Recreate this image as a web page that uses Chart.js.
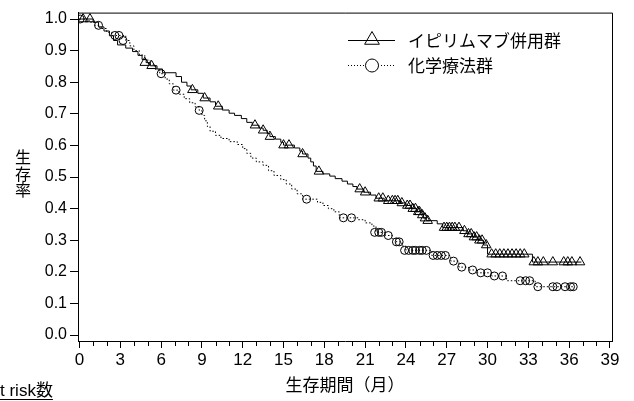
<!DOCTYPE html>
<html lang="ja">
<head>
<meta charset="UTF-8">
<title>生存率</title>
<script src="https://cdn.jsdelivr.net/npm/chart.js"></script>
<style>
  html, body { margin: 0; padding: 0; background: #fff; }
</style>
</head>
<body>
<canvas id="km" width="634" height="401"></canvas>
<script>
// イピリムマブ併用群: step points (months, survival)
const ipiTimes = [0, 1.0, 1.4, 1.8, 2.2, 2.5, 2.8, 3.4, 3.9, 4.3, 4.6, 4.9, 5.2, 5.7, 6.1, 7.1, 7.5, 7.9, 8.2, 8.7,
  9.1, 9.6, 10.0, 10.5, 11.0, 11.4, 11.9, 12.3, 12.7, 13.2, 13.5, 13.8, 14.0, 14.4, 14.8, 15.0, 15.8, 16.2, 16.4, 16.8,
  17.0, 17.2, 17.4, 17.9, 18.4, 18.8, 19.3, 19.7, 20.1, 20.4, 20.9, 21.4, 21.8, 22.4, 23.6, 24.0, 24.4, 24.8, 25.1, 25.3,
  25.5, 26.3, 26.7, 28.2, 28.5, 28.9, 29.3, 29.7, 30.0, 33.3, 36.9];
const ipiSurv = [1.0, 0.99, 0.975, 0.962, 0.947, 0.932, 0.918, 0.908, 0.897, 0.885, 0.872, 0.862, 0.852, 0.842, 0.83, 0.818, 0.80, 0.788, 0.776, 0.765,
  0.75, 0.738, 0.724, 0.712, 0.702, 0.695, 0.685, 0.673, 0.664, 0.655, 0.648, 0.638, 0.628, 0.62, 0.61, 0.601, 0.592, 0.582, 0.573, 0.56,
  0.548, 0.535, 0.518, 0.51, 0.503, 0.495, 0.487, 0.478, 0.47, 0.462, 0.452, 0.443, 0.433, 0.425, 0.418, 0.41, 0.40, 0.39, 0.38, 0.37,
  0.362, 0.352, 0.34, 0.33, 0.32, 0.31, 0.30, 0.285, 0.256, 0.231, 0.231];
const ipiCensorTimes = [0.26, 0.77, 4.8, 5.3, 8.3, 9.2, 10.2, 12.9, 13.5, 14.0, 15.0, 15.4, 16.4, 17.6, 20.6, 21.0, 22.0, 22.3, 22.7, 23.0,
  23.2, 23.4, 23.7, 24.1, 24.3, 24.5, 24.7, 24.9, 25.0, 25.2, 25.4, 25.6, 26.8, 27.0, 27.2, 27.4, 27.6, 27.9, 28.3, 28.6,
  28.8, 29.0, 29.2, 29.4, 29.6, 29.9, 30.3, 30.6, 30.9, 31.2, 31.5, 31.8, 32.1, 32.4, 32.7, 33.4, 33.7, 34.1, 34.8, 35.6,
  35.9, 36.2, 36.8];
const ipiCensorSurv = [1.0, 1.0, 0.862, 0.852, 0.776, 0.75, 0.724, 0.664, 0.648, 0.628, 0.601, 0.601, 0.573, 0.518, 0.462, 0.452, 0.433, 0.433, 0.425, 0.425,
  0.425, 0.425, 0.418, 0.41, 0.41, 0.40, 0.40, 0.39, 0.39, 0.38, 0.37, 0.362, 0.34, 0.34, 0.34, 0.34, 0.34, 0.34, 0.33, 0.32,
  0.32, 0.31, 0.31, 0.30, 0.30, 0.285, 0.256, 0.256, 0.256, 0.256, 0.256, 0.256, 0.256, 0.256, 0.256, 0.231, 0.231, 0.231, 0.231, 0.231,
  0.231, 0.231, 0.231];

// 化学療法群
const chemoTimes = [0, 0.7, 1.1, 1.5, 2.0, 2.4, 3.4, 3.7, 4.0, 4.4, 4.8, 5.2, 5.6, 5.9, 6.3, 6.6, 6.9, 7.3, 7.7, 8.1,
  8.5, 8.8, 9.0, 9.2, 9.4, 9.6, 10.0, 10.4, 11.0, 11.6, 12.0, 12.3, 12.6, 13.0, 13.5, 13.9, 14.3, 14.8, 15.2, 15.6,
  16.0, 16.4, 17.5, 17.9, 18.3, 18.7, 19.1, 20.5, 21.0, 21.5, 21.8, 22.5, 23.0, 23.3, 23.7, 24.0, 25.9, 27.3, 27.9, 28.6,
  29.2, 30.3, 31.4, 33.5, 36.4];
const chemoSurv = [1.0, 0.99, 0.98, 0.97, 0.958, 0.948, 0.932, 0.915, 0.90, 0.886, 0.87, 0.855, 0.84, 0.827, 0.81, 0.795, 0.775, 0.762, 0.748, 0.735,
  0.722, 0.711, 0.695, 0.678, 0.66, 0.645, 0.632, 0.622, 0.612, 0.603, 0.59, 0.575, 0.56, 0.548, 0.537, 0.52, 0.505, 0.492, 0.478, 0.462,
  0.447, 0.43, 0.42, 0.41, 0.40, 0.39, 0.371, 0.365, 0.355, 0.345, 0.325, 0.315, 0.305, 0.295, 0.282, 0.268, 0.252, 0.234, 0.215, 0.206,
  0.197, 0.187, 0.172, 0.153, 0.153];
const chemoCensorTimes = [0.05, 1.4, 2.6, 2.9, 3.2, 6.0, 7.1, 8.8, 16.7, 19.4, 20.0, 21.7, 22.0, 22.2, 22.7, 23.3, 23.5, 23.9, 24.2, 24.5,
  24.7, 25.0, 25.2, 25.5, 26.0, 26.3, 26.6, 26.9, 27.5, 28.1, 28.9, 29.5, 30.0, 30.5, 31.1, 32.4, 32.8, 33.1, 33.7, 34.8,
  35.1, 35.7, 36.1, 36.3];
const chemoCensorSurv = [1.0, 0.98, 0.948, 0.948, 0.932, 0.827, 0.775, 0.711, 0.43, 0.371, 0.371, 0.325, 0.325, 0.325, 0.315, 0.295, 0.295, 0.268, 0.268, 0.268,
  0.268, 0.268, 0.268, 0.268, 0.252, 0.252, 0.252, 0.252, 0.234, 0.215, 0.206, 0.197, 0.197, 0.187, 0.187, 0.172, 0.172, 0.172, 0.153, 0.153,
  0.153, 0.153, 0.153, 0.153];

const groupNames = ['イピリムマブ併用群', '化学療法群'];
const xTitle = '生存期間（月）';
const yTitle = ['生', '存', '率'];
const riskLabel = 'at risk数';

const FONT = "'Liberation Sans', Arial, 'Noto Sans CJK JP', sans-serif";
const JFONT = "'Noto Sans CJK JP', sans-serif";

const pts = (xs, ys) => xs.map((x, i) => ({ x: x, y: ys[i] }));

function drawTri(ctx, x, y, r) {
  ctx.beginPath();
  ctx.moveTo(x, y - r);
  ctx.lineTo(x + r * 0.866, y + r * 0.5);
  ctx.lineTo(x - r * 0.866, y + r * 0.5);
  ctx.closePath();
  ctx.stroke();
}

// frame, minor ticks, vertical y title, legend, at-risk label
const extras = {
  id: 'extras',
  afterDraw(chart) {
    const { ctx, chartArea: a } = chart;
    const xs = chart.scales.x;
    ctx.save();
    ctx.strokeStyle = '#000';
    ctx.lineWidth = 1;
    ctx.beginPath();
    ctx.moveTo(a.left, a.top + 0.5);
    ctx.lineTo(a.right + 0.5, a.top + 0.5);
    ctx.lineTo(a.right + 0.5, a.bottom);
    for (let m = 1; m < 39; m++) {
      if (m % 3 === 0) continue;
      const px = Math.round(xs.getPixelForValue(m)) + 0.5;
      ctx.moveTo(px, a.bottom);
      ctx.lineTo(px, a.bottom + 5);
    }
    ctx.stroke();

    ctx.fillStyle = '#000';
    ctx.font = '16px ' + JFONT;
    ctx.textAlign = 'center';
    ctx.textBaseline = 'middle';
    yTitle.forEach((c, i) => ctx.fillText(c, 23, 157 + i * 16.5));

    // legend
    const lx = a.right - 264;
    ctx.font = '17px ' + JFONT;
    ctx.textAlign = 'left';
    ctx.beginPath();
    ctx.moveTo(lx, 40.5); ctx.lineTo(lx + 47, 40.5);
    ctx.stroke();
    drawTri(ctx, lx + 24, 40, 8.5);
    ctx.fillText(groupNames[0], lx + 60, 41);

    ctx.setLineDash([1, 2]);
    ctx.beginPath();
    ctx.moveTo(lx, 65.5); ctx.lineTo(lx + 47, 65.5);
    ctx.stroke();
    ctx.setLineDash([]);
    ctx.fillStyle = '#fff';
    ctx.beginPath();
    ctx.arc(lx + 24, 65.5, 6.5, 0, Math.PI * 2);
    ctx.fill();
    ctx.stroke();
    ctx.fillStyle = '#000';
    ctx.fillText(groupNames[1], lx + 60, 66);

    // at risk label, its first letter cut off by the left edge
    ctx.font = '17px ' + FONT;
    ctx.textAlign = 'left';
    ctx.textBaseline = 'alphabetic';
    const cut = ctx.measureText('a').width;
    const w = ctx.measureText(riskLabel).width - cut;
    ctx.fillText(riskLabel, -cut, 396);
    ctx.beginPath();
    ctx.moveTo(0, 399.5); ctx.lineTo(w, 399.5);
    ctx.stroke();
    ctx.restore();
  }
};

new Chart(document.getElementById('km'), {
  type: 'line',
  data: {
    datasets: [
      {
        label: groupNames[0],
        data: pts(ipiTimes, ipiSurv),
        stepped: 'before',
        borderColor: '#000',
        borderWidth: 1,
        pointRadius: 0,
        fill: false
      },
      {
        label: groupNames[1],
        data: pts(chemoTimes, chemoSurv),
        stepped: 'before',
        borderColor: '#000',
        borderWidth: 1,
        borderDash: [1.5, 2],
        pointRadius: 0,
        fill: false
      },
      {
        type: 'scatter',
        data: pts(ipiCensorTimes, ipiCensorSurv),
        pointStyle: 'triangle',
        pointRadius: 5.5,
        borderColor: '#000',
        borderWidth: 1,
        backgroundColor: 'rgba(0,0,0,0)'
      },
      {
        type: 'scatter',
        data: pts(chemoCensorTimes, chemoCensorSurv),
        pointStyle: 'circle',
        pointRadius: 4,
        borderColor: '#000',
        borderWidth: 1,
        backgroundColor: 'rgba(0,0,0,0)'
      }
    ]
  },
  options: {
    responsive: false,
    animation: false,
    layout: { padding: { top: 8, right: 22, left: 0, bottom: 0 } },
    plugins: { legend: { display: false }, tooltip: { enabled: false } },
    scales: {
      x: {
        type: 'linear',
        min: -0.11,
        max: 39.15,
        afterFit: s => { s.height = 60; },
        border: { display: true, color: '#000', width: 1 },
        grid: { drawOnChartArea: false, tickLength: 7, color: '#000' },
        ticks: { stepSize: 3, includeBounds: false, color: '#000', padding: 2, maxRotation: 0, font: { family: FONT, size: 17 } },
        title: { display: true, text: xTitle, color: '#000', padding: { top: 2, bottom: 6 }, font: { family: JFONT, size: 17 } }
      },
      y: {
        type: 'linear',
        min: -0.0187,
        max: 1.0203,
        afterFit: s => { s.width = 78; },
        border: { display: true, color: '#000', width: 1 },
        grid: { drawOnChartArea: false, tickLength: 8, color: '#000' },
        ticks: { stepSize: 0.1, includeBounds: false, color: '#000', padding: 3, font: { family: FONT, size: 16 }, callback: v => v.toFixed(1) }
      }
    }
  },
  plugins: [extras]
});
</script>
</body>
</html>
